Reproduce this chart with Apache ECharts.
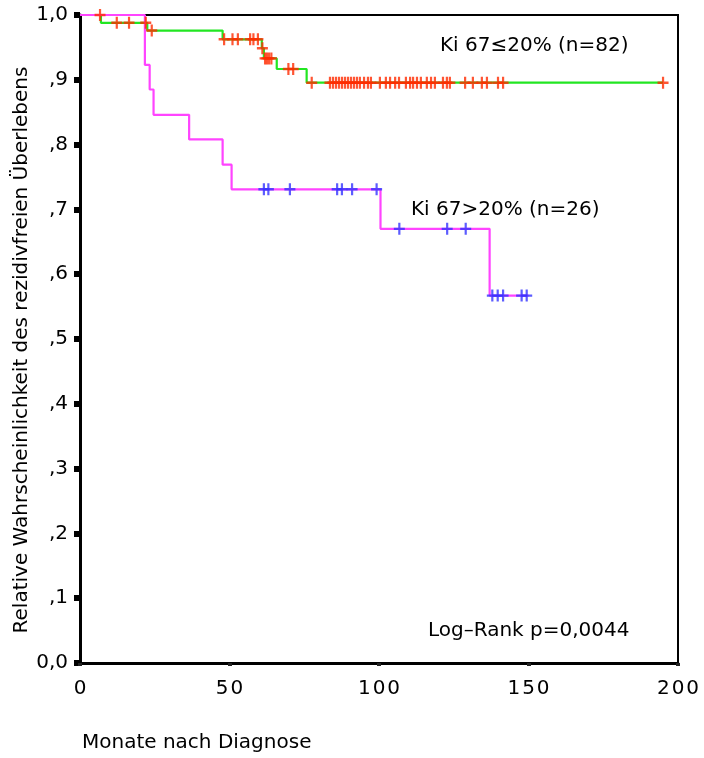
<!DOCTYPE html>
<html>
<head>
<meta charset="utf-8">
<script src="https://cdn.jsdelivr.net/npm/echarts@6/dist/echarts.min.js"></script>
<style>
  html, body { margin: 0; padding: 0; background: #fff; }
  #chart { width: 704px; height: 758px; }
</style>
</head>
<body>
<div id="chart"></div>
<script>
// Kaplan–Meier steps: [month of event, survival after event]
const lowKiSteps = [[0, 1.0], [7.0, 0.988], [22.5, 0.976], [47.7, 0.9625], [60.8, 0.9486],
  [61.5, 0.933], [65.8, 0.9167], [75.8, 0.8955], [195, 0.8955]];
const highKiSteps = [[0, 1.0], [21.7, 0.923], [23.3, 0.885], [24.6, 0.846], [36.5, 0.808],
  [47.7, 0.769], [50.7, 0.731], [100.5, 0.67], [137.0, 0.567], [150, 0.567]];

// Censored observations (months)
const lowKiCensored = [6.7, 12.3, 16.4, 22.0, 24.0, 48.2, 51.0, 52.8, 56.9, 58.0, 59.5, 61.0,
  61.9, 62.5, 63.2, 64.0, 69.7, 71.3, 77.5,
  83.6, 84.6, 85.6, 86.6, 87.6, 88.6, 89.6, 90.6, 91.6, 92.6, 93.6, 95.0, 96.3,
  97.3, 100.3, 102.3, 103.7, 105.4, 106.7, 109.0,
  110.4, 111.4, 112.7, 114.0, 116.0, 117.4, 118.7,
  121.4, 122.7, 123.7, 128.8, 131.4, 134.4, 136.1, 139.8, 141.5, 195.0];
const highKiCensored = [61.5, 63.0, 70.2, 86.0, 87.6, 91.0, 99.2, 106.8, 122.8, 129.0,
  137.9, 139.7, 141.5, 147.7, 149.4];

const yTicks = ['0,0', ',1', ',2', ',3', ',4', ',5', ',6', ',7', ',8', ',9', '1,0'];
const xTicks = ['0', '50', '100', '150', '200'];

const groupLabels = ['Ki 67≤20% (n=82)', 'Ki 67>20% (n=26)'];
const testLabel = 'Log–Rank p=0,0044';
const yTitle = 'Relative Wahrscheinlichkeit des rezidivfreien Überlebens';
const xTitle = 'Monate nach Diagnose';

function survivalAt(steps, t) {
  let s = steps[0][1];
  for (const [time, val] of steps) { if (time <= t) s = val; }
  return s;
}

const plus = 'path://M4,0H6V4H10V6H6V10H4V6H0V4H4Z';
const FONT = 'DejaVu Sans';
const TEXT_FONT = '20px "DejaVu Sans"';

const chart = echarts.init(document.getElementById('chart'));
chart.setOption({
  animation: false,
  backgroundColor: '#fff',
  grid: { left: 80, right: 26, top: 15, bottom: 95, show: true, borderColor: '#000', borderWidth: 2 },
  xAxis: {
    type: 'value', min: 0, max: 200, interval: 50,
    axisLine: { show: true, lineStyle: { color: '#000', width: 3 } },
    axisTick: { show: true, length: 3, lineStyle: { color: '#222', width: 4 } },
    splitLine: { show: false },
    axisLabel: {
      margin: 16, color: '#000', fontSize: 20, fontFamily: FONT,
      formatter: v => { const i = Math.round(v / 50); return (xTicks[i] || '').split('').join('\u200A'); }
    }
  },
  yAxis: {
    type: 'value', min: 0, max: 1, interval: 0.1,
    axisLine: { show: true, lineStyle: { color: '#000', width: 3 } },
    axisTick: { show: true, length: 6, lineStyle: { color: '#000', width: 6 } },
    splitLine: { show: false },
    axisLabel: {
      margin: 12, color: '#000', fontSize: 20, fontFamily: FONT,
      formatter: v => yTicks[Math.round(v * 10)]
    }
  },
  series: [
    { type: 'line', step: 'end', data: lowKiSteps, showSymbol: false,
      lineStyle: { color: '#22e622', width: 2.2 }, z: 2 },
    { type: 'line', step: 'end', data: highKiSteps, showSymbol: false,
      lineStyle: { color: '#ff44ff', width: 2.2 }, z: 3 },
    { type: 'scatter', symbol: plus, symbolSize: [11, 12],
      itemStyle: { color: '#ff2a00' }, z: 4,
      data: lowKiCensored.map(t => [t, survivalAt(lowKiSteps, t)]) },
    { type: 'scatter', symbol: plus, symbolSize: [11, 12],
      itemStyle: { color: '#3333ff' }, z: 4,
      data: highKiCensored.map(t => [t, survivalAt(highKiSteps, t)]) }
  ],
  graphic: [
    { type: 'text', left: 440, top: 36, style: { text: groupLabels[0], font: TEXT_FONT, fill: '#000' } },
    { type: 'text', left: 411, top: 200, style: { text: groupLabels[1], font: TEXT_FONT, fill: '#000' } },
    { type: 'text', left: 428, top: 621, style: { text: testLabel, font: TEXT_FONT, fill: '#000' } },
    { type: 'text', x: 22, y: 350, rotation: Math.PI / 2,
      style: { text: yTitle, font: TEXT_FONT, fill: '#000', align: 'center', verticalAlign: 'middle' } },
    { type: 'text', left: 82, top: 733, style: { text: xTitle, font: TEXT_FONT, fill: '#000' } }
  ]
});
</script>
</body>
</html>
